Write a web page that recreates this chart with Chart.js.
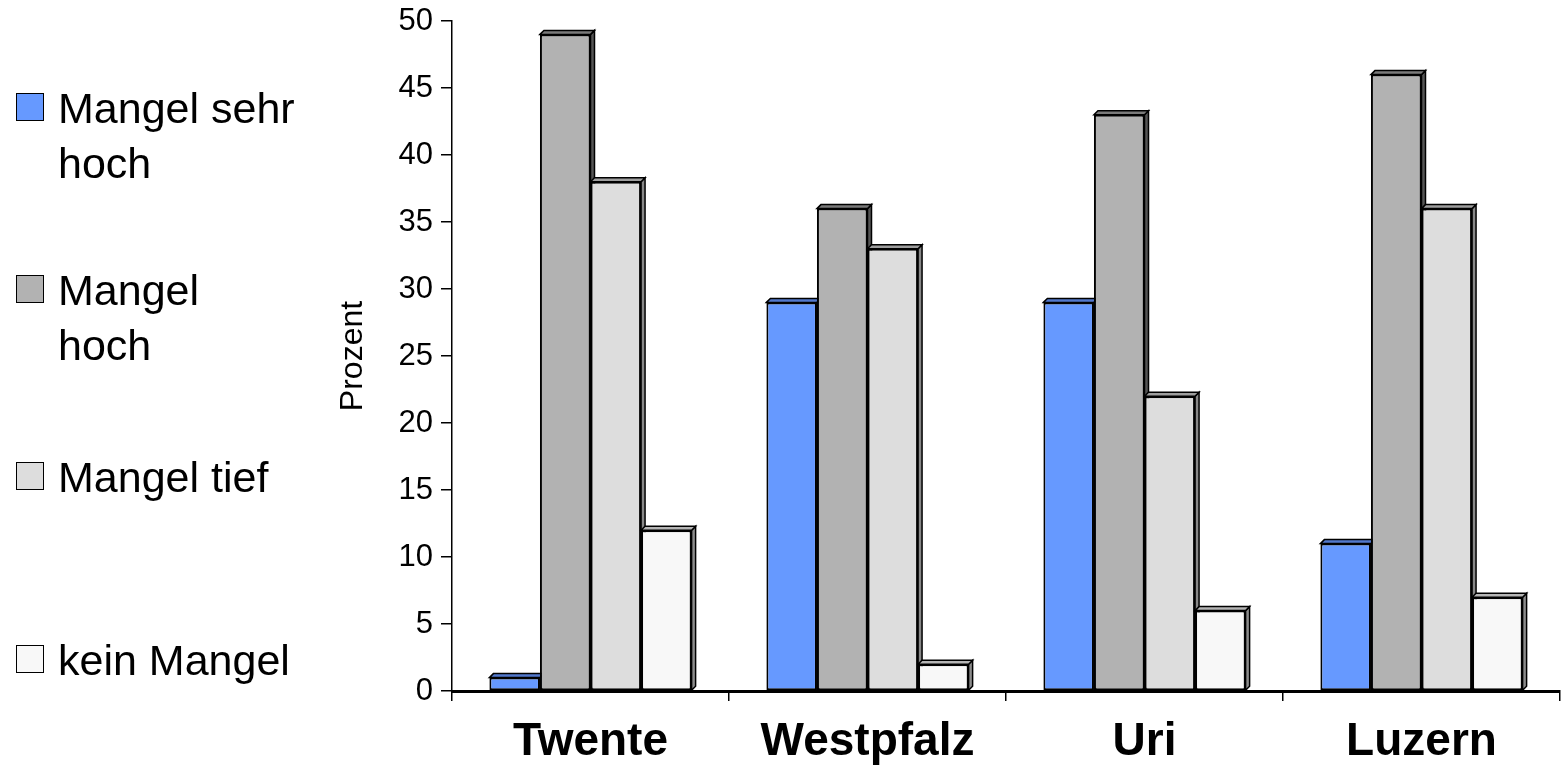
<!DOCTYPE html>
<html>
<head>
<meta charset="utf-8">
<script src="https://cdn.jsdelivr.net/npm/chart.js"></script>
<style>
  html, body { margin: 0; padding: 0; background: #fff; }
  #wrap { position: relative; width: 1562px; height: 768px; }
  #chart { position: absolute; left: 0; top: 0; }
  .leg { position: absolute; left: 16px; font-family: 'Liberation Sans', Arial, sans-serif;
         font-size: 43px; line-height: 55px; color: #000; }
  .leg .box { position: absolute; left: 0; top: 12px; width: 28px; height: 28px;
              border: 1.5px solid #000; box-sizing: border-box; }
  .leg .txt { position: absolute; left: 42px; top: 0; white-space: nowrap; }
</style>
</head>
<body>
<div id="wrap">
  <canvas id="chart" width="1562" height="768"></canvas>
  <div id="legend"></div>
</div>
<script>
const categories = ['Twente', 'Westpfalz', 'Uri', 'Luzern'];
const seriesNames = [['Mangel sehr', 'hoch'], ['Mangel', 'hoch'], ['Mangel tief'], ['kein Mangel']];
const mangelSehrHoch = [1, 29, 29, 11];
const mangelHoch = [49, 36, 43, 46];
const mangelTief = [38, 33, 22, 36];
const keinMangel = [12, 2, 6, 7];
const yTicks = [0, 5, 10, 15, 20, 25, 30, 35, 40, 45, 50];

const fills = ['#6699FF', '#B2B2B2', '#DDDDDD', '#F8F8F8'];
const sides = ['#3D5C99', '#555555', '#888888', '#8C8C8C'];
const tops = ['#5278CC', '#7A7A7A', '#9E9E9E', '#B5B5B5'];
const legendTops = [81, 263, 450, 633];

// legend on the left, multi-line labels
const legend = document.getElementById('legend');
seriesNames.forEach((lines, i) => {
  const item = document.createElement('div');
  item.className = 'leg';
  item.style.top = legendTops[i] + 'px';
  item.innerHTML = `<div class="box" style="background:${fills[i]}"></div>`
    + `<div class="txt">${lines.join('<br>')}</div>`;
  legend.append(item);
});

// draws the 3D side and top faces behind the bar fronts
const depth = {
  id: 'depth',
  beforeDatasetsDraw(chart) {
    const { ctx } = chart;
    const d = 4;
    chart.data.datasets.forEach((ds, i) => {
      chart.getDatasetMeta(i).data.forEach((bar) => {
        const l = bar.x - bar.width / 2;
        const r = bar.x + bar.width / 2;
        const t = bar.y;
        const b = bar.base;
        ctx.save();
        ctx.lineWidth = 1.5;
        ctx.strokeStyle = '#000';
        ctx.beginPath();
        ctx.moveTo(r, t);
        ctx.lineTo(r + d, t - d);
        ctx.lineTo(r + d, b - d);
        ctx.lineTo(r, b);
        ctx.closePath();
        ctx.fillStyle = sides[i];
        ctx.fill();
        ctx.stroke();
        ctx.beginPath();
        ctx.moveTo(l, t);
        ctx.lineTo(l + d, t - d);
        ctx.lineTo(r + d, t - d);
        ctx.lineTo(r, t);
        ctx.closePath();
        ctx.fillStyle = tops[i];
        ctx.fill();
        ctx.stroke();
        ctx.restore();
      });
    });
  },
};

const values = [mangelSehrHoch, mangelHoch, mangelTief, keinMangel];

new Chart(document.getElementById('chart'), {
  type: 'bar',
  data: {
    labels: categories,
    datasets: values.map((v, i) => ({
      label: seriesNames[i].join(' '),
      data: v,
      backgroundColor: fills[i],
      borderColor: '#000',
      borderWidth: 2,
      borderSkipped: false,
      categoryPercentage: 0.73,
      barPercentage: 1.0,
    })),
  },
  options: {
    responsive: false,
    animation: false,
    events: [],
    layout: { padding: { left: 334, right: 2, top: 21, bottom: 0 } },
    plugins: { legend: { display: false }, tooltip: { enabled: false } },
    scales: {
      x: {
        offset: true,
        grid: { offset: true, drawOnChartArea: false, drawTicks: true, tickLength: 10, color: '#000', lineWidth: 1.5 },
        border: { display: true, color: '#000', width: 3 },
        ticks: {
          color: '#000',
          padding: 14,
          font: { family: 'Liberation Sans', size: 46, weight: 'bold' },
        },
        afterFit(scale) { scale.height = 77; },
      },
      y: {
        min: 0,
        max: 50,
        afterBuildTicks(scale) { scale.ticks = yTicks.map((v) => ({ value: v })); },
        grid: { drawOnChartArea: false, drawTicks: true, tickLength: 11, color: '#000', lineWidth: 1.5 },
        border: { display: true, color: '#000', width: 1.5 },
        ticks: {
          color: '#000',
          padding: 8,
          font: { family: 'Liberation Sans', size: 31 },
        },
        title: {
          display: true,
          text: 'Prozent',
          color: '#000',
          padding: 0,
          font: { family: 'Liberation Sans', size: 32 },
        },
        afterFit(scale) {
          scale.width = 118;
          scale.paddingTop = 0;
          scale.paddingBottom = 0;
        },
      },
    },
  },
  plugins: [depth],
});
</script>
</body>
</html>
